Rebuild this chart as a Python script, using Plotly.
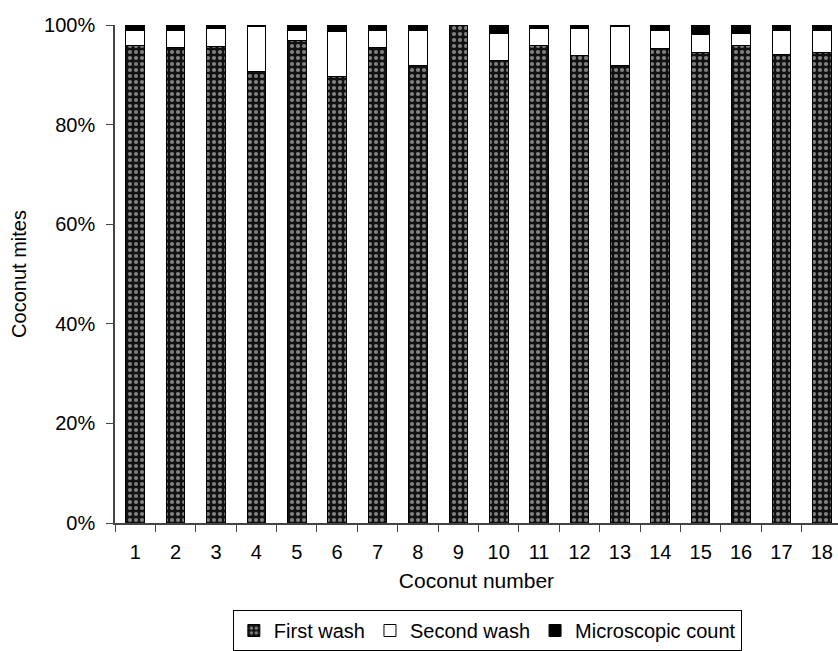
import plotly.graph_objects as go

coconuts = [str(i) for i in range(1, 19)]
first_wash = [95.8, 95.4, 95.6, 90.7, 96.9, 89.7, 95.4, 91.9, 100.0, 92.9, 95.8, 93.8, 91.9, 95.2, 94.4, 95.8, 94.0, 94.4]
second_wash = [3.0, 3.4, 3.6, 8.9, 1.9, 9.0, 3.4, 6.9, 0.0, 5.4, 3.4, 5.4, 7.7, 3.6, 3.6, 2.5, 4.8, 4.4]
microscopic = [1.2, 1.2, 0.8, 0.4, 1.2, 1.3, 1.2, 1.2, 0.0, 1.7, 0.8, 0.8, 0.4, 1.2, 2.0, 1.7, 1.2, 1.2]
y_ticks = [0, 20, 40, 60, 80, 100]
y_tick_labels = ["0%", "20%", "40%", "60%", "80%", "100%"]

fig = go.Figure()
fig.add_trace(go.Bar(
    x=coconuts, y=first_wash, name="First wash",
    marker=dict(color="#111111", line=dict(color="black", width=1),
                pattern=dict(shape=".", fgcolor="#f0f0f0", bgcolor="#111111",
                             size=6, solidity=0.38)),
))
fig.add_trace(go.Bar(
    x=coconuts, y=second_wash, name="Second wash",
    marker=dict(color="white", line=dict(color="black", width=1)),
))
fig.add_trace(go.Bar(
    x=coconuts, y=microscopic, name="Microscopic count",
    marker=dict(color="black", line=dict(color="black", width=1)),
))

font = "Liberation Sans, Arial, sans-serif"
fig.update_layout(
    barmode="stack",
    bargap=0.54,
    width=838, height=651,
    margin=dict(l=115, r=0, t=25, b=128),
    plot_bgcolor="white", paper_bgcolor="white",
    font=dict(family=font, size=20, color="black"),
    showlegend=True,
    legend=dict(orientation="h", x=0.515, xanchor="center", y=-0.175, yanchor="top",
                bordercolor="black", borderwidth=1, font=dict(size=20),
                itemwidth=30, traceorder="normal"),
)
fig.update_xaxes(
    title=dict(text="Coconut number", font=dict(size=21), standoff=12),
    showline=True, linecolor="#444", linewidth=1.5,
    ticks="outside", tickson="boundaries", ticklen=7, tickcolor="#444",
    ticklabelstandoff=10,
    showgrid=False, range=[-0.5, 17.4],
)
fig.update_yaxes(
    title=dict(text="Coconut mites", font=dict(size=20), standoff=12),
    range=[0, 100], tickvals=y_ticks, ticktext=y_tick_labels,
    showline=True, linecolor="#444", linewidth=1.5,
    ticks="outside", ticklen=7, tickcolor="#444",
    ticklabelstandoff=7,
    showgrid=False, zeroline=False,
)

fig.write_html("out.html", config={"displayModeBar": False},
               post_script="document.body.style.margin='0';")
